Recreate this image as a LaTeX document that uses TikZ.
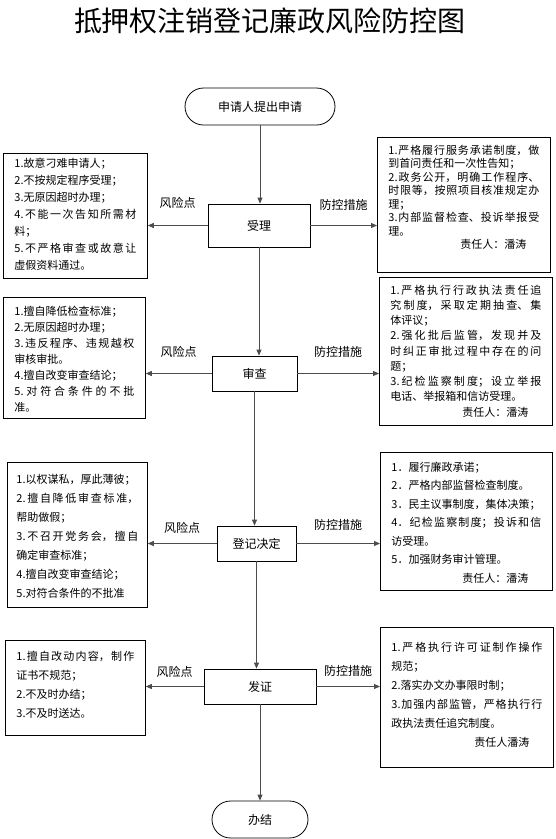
\documentclass[tikz,border=0pt]{standalone}
\usepackage{fontspec}
\setmainfont{Noto Sans CJK SC}
\usetikzlibrary{arrows.meta, shapes.misc}

% width, height, line skip, top gap, lines
\newcommand{\boxlines}[5]{%
  \parbox[t][#2pt][t]{#1pt}{\fontsize{11}{#3}\selectfont
    \XeTeXlinebreaklocale "zh"\XeTeXlinebreakskip=0pt plus 4pt
    \tolerance=10000 \hbadness=10000
    \vspace*{#4pt}#5}}
\newcommand{\duty}[1]{\par\hfill #1\hspace*{13pt}{\parfillskip=0pt\par}}

\begin{document}
\begin{tikzpicture}[x=1pt, y=-1pt,
    procbox/.style={draw, line width=0.8pt, inner sep=0pt, font=\fontsize{12}{14}\selectfont},
    endbox/.style={procbox, rounded rectangle},
    infobox/.style={draw, line width=0.8pt, anchor=north west, inner xsep=11pt, inner ysep=0pt},
    flow/.style={draw=black!70, line width=0.8pt, -{Triangle[length=6pt, width=5pt]}},
    lbl/.style={midway, inner sep=0pt, font=\fontsize{12}{14}\selectfont}]
  \useasboundingbox (0,0) rectangle (555,839);

  \node (title) at (270,21) {\fontsize{28}{30}\selectfont 抵押权注销登记廉政风险防控图};

  % main steps
  \node[endbox, minimum width=150pt, minimum height=37pt] (start) at (260,106.5) {申请人提出申请};
  \node[procbox, minimum width=102pt, minimum height=43pt] (accept) at (259,225.5) {受理};
  \node[procbox, minimum width=85pt, minimum height=35pt] (review) at (254.5,373.5) {审查};
  \node[procbox, minimum width=79pt, minimum height=35pt] (decide) at (256.5,543.5) {登记决定};
  \node[procbox, minimum width=112pt, minimum height=35pt] (issue) at (260,686.5) {发证};
  \node[endbox, minimum width=96pt, minimum height=37pt] (finish) at (260,819.5) {办结};

  % risk points
  \node[infobox] (risk1) at (3,153) {\boxlines{122}{125}{17}{4.5}{%
    1.故意刁难申请人；\par
    2.不按规定程序受理；\par
    3.无原因超时办理；\par
    4.不能一次告知所需材\linebreak 料；\par
    5.不严格审查或故意让\linebreak 虚假资料通过。}};
  \node[infobox] (risk2) at (3,297) {\boxlines{120}{121}{16}{8.5}{%
    1.擅自降低检查标准；\par
    2.无原因超时办理；\par
    3.违反程序、违规越权\linebreak 审核审批。\par
    4.擅自改变审查结论；\par
    5.对符合条件的不批\linebreak 准。}};
  \node[infobox, inner xsep=9pt] (risk3) at (7,462) {\boxlines{122}{145}{19}{11.5}{%
    1.以权谋私，厚此薄彼；\par
    2.擅自降低审查标准，\linebreak 帮助做假；\par
    3.不召开党务会，擅自\linebreak 确定审查标准；\par
    4.擅自改变审查结论；\par
    5.对符合条件的不批准}};
  \node[infobox] (risk4) at (5,640) {\boxlines{118}{95}{19}{10.5}{%
    1.擅自改动内容，制作\linebreak 证书不规范；\par
    2.不及时办结；\par
    3.不及时送达。}};

  % control measures
  \node[infobox] (ctrl1) at (377,137) {\boxlines{151}{135}{13.5}{7.5}{%
    1.严格履行服务承诺制度，做\linebreak 到首问责任和一次性告知；\par
    2.政务公开，明确工作程序、\linebreak 时限等，按照项目核准规定办\linebreak 理；\par
    3.内部监督检查、投诉举报受\linebreak 理。
    \duty{责任人：潘涛}}};
  \node[infobox] (ctrl2) at (379,277) {\boxlines{151}{148}{15.25}{7.5}{%
    1.严格执行行政执法责任追\linebreak 究制度，采取定期抽查、集\linebreak 体评议；\par
    2.强化批后监管，发现并及\linebreak 时纠正审批过程中存在的问\linebreak 题；\par
    3.纪检监察制度；设立举报\linebreak 电话、举报箱和信访受理。
    \duty{责任人：潘涛}}};
  \node[infobox] (ctrl3) at (380,452) {\boxlines{150}{138}{18.5}{9.5}{%
    1．履行廉政承诺；\par
    2．严格内部监督检查制度。\par
    3．民主议事制度，集体决策；\par
    4．纪检监察制度；投诉和信\linebreak 访受理。\par
    5．加强财务审计管理。
    \duty{责任人：潘涛}}};
  \node[infobox] (ctrl4) at (380,627) {\boxlines{151}{140}{19}{14.5}{%
    1.严格执行许可证制作操作\linebreak 规范；\par
    2.落实办文办事限时制；\par
    3.加强内部监管，严格执行行\linebreak 政执法责任追究制度。
    \duty{责任人潘涛}}};

  % flow down the middle
  \draw[flow] (start.south) -- (start.south |- accept.north);
  \draw[flow] (accept.south) -- (accept.south |- review.north);
  \draw[flow] (review.south) -- (review.south |- decide.north);
  \draw[flow] (decide.south) -- (decide.south |- issue.north);
  \draw[flow] (issue.south) -- (issue.south |- finish.north);

  % side arrows
  \draw[flow] (accept.west) -- (accept.west -| risk1.east) node[lbl, above=17pt] (rl1) {风险点};
  \draw[flow] (accept.east) -- (accept.east -| ctrl1.west) node[lbl, above=15pt] (cl1) {防控措施};
  \draw[flow] (review.west) -- (review.west -| risk2.east) node[lbl, above=16pt] (rl2) {风险点};
  \draw[flow] (review.east) -- (review.east -| ctrl2.west) node[lbl, above=16pt] (cl2) {防控措施};
  \draw[flow] (decide.west) -- (decide.west -| risk3.east) node[lbl, above=10pt] (rl3) {风险点};
  \draw[flow] (decide.east) -- (decide.east -| ctrl3.west) node[lbl, above=13pt] (cl3) {防控措施};
  \draw[flow] (issue.west) -- (issue.west -| risk4.east) node[lbl, above=9pt] (rl4) {风险点};
  \draw[flow] (issue.east) -- (issue.east -| ctrl4.west) node[lbl, above=10pt] (cl4) {防控措施};
\end{tikzpicture}
\end{document}
